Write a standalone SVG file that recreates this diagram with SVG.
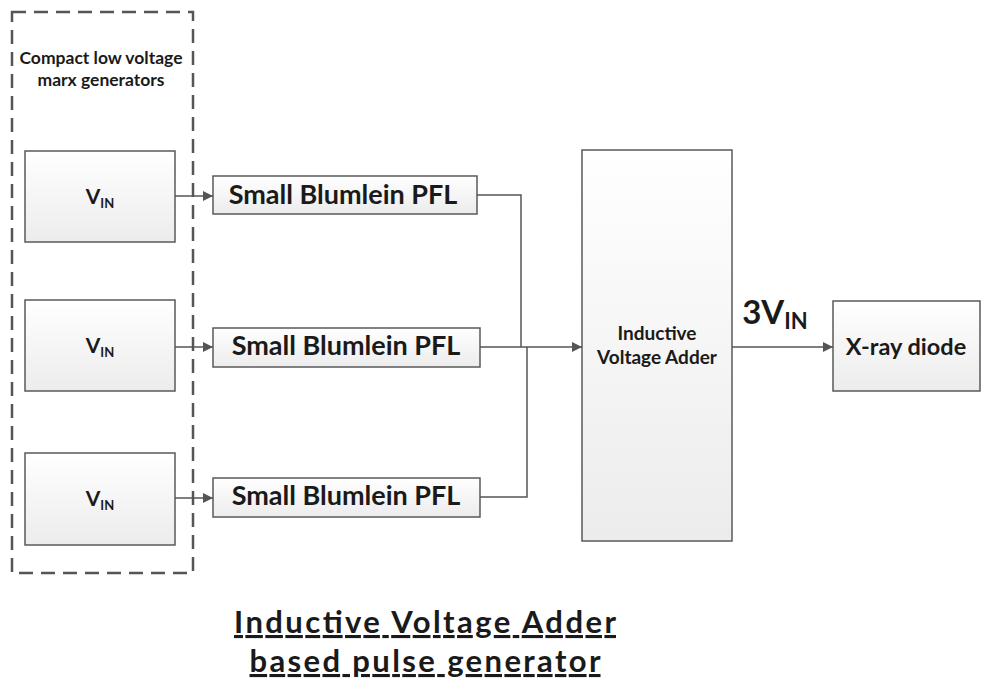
<svg xmlns="http://www.w3.org/2000/svg" width="986" height="689" viewBox="0 0 986 689">
<defs>
<linearGradient id="g" x1="0" y1="0" x2="0" y2="1"><stop offset="0" stop-color="#ffffff"/><stop offset="1" stop-color="#ececec"/></linearGradient>
<marker id="arr" viewBox="0 0 10 10" refX="10" refY="5" markerWidth="10" markerHeight="10" markerUnits="userSpaceOnUse" orient="auto"><path d="M0,0 L10,5 L0,10 Z" fill="#555"/></marker>
<style>
.box{fill:url(#g);stroke:#5a5a5a;stroke-width:1.5}
.t{font-family:Lato,"Open Sans","Liberation Sans",sans-serif;font-weight:bold;fill:#1a1a1a;text-anchor:middle}
.c{fill:none;stroke:#555;stroke-width:1.5}
</style>
</defs>
<rect width="986" height="689" fill="#fff"/>
<g id="group">
<rect x="12" y="12" width="181" height="561" fill="none" stroke="#555" stroke-width="2.5" stroke-dasharray="14,8"/>
<text class="t" x="101" y="64" font-size="17.5" fill="#333">Compact low voltage</text>
<text class="t" x="101" y="86" font-size="17.5" fill="#333">marx generators</text>
</g>
<g id="vin1"><rect class="box" x="25" y="151" width="150" height="91"/><text class="t" x="100" y="204" font-size="21">V<tspan font-size="13" dy="4">IN</tspan></text></g>
<g id="vin2"><rect class="box" x="25" y="300" width="150" height="91"/><text class="t" x="100" y="353" font-size="21">V<tspan font-size="13" dy="4">IN</tspan></text></g>
<g id="vin3"><rect class="box" x="25" y="453" width="150" height="92"/><text class="t" x="100" y="506" font-size="21">V<tspan font-size="13" dy="4">IN</tspan></text></g>
<g id="pfl1"><rect class="box" x="213" y="176" width="264" height="38"/><text class="t" x="343" y="204" font-size="27">Small Blumlein PFL</text></g>
<g id="pfl2"><rect class="box" x="213" y="328" width="267" height="39"/><text class="t" x="346" y="355" font-size="27">Small Blumlein PFL</text></g>
<g id="pfl3"><rect class="box" x="213" y="478" width="267" height="39"/><text class="t" x="346" y="505" font-size="27">Small Blumlein PFL</text></g>
<g id="iva"><rect class="box" x="582" y="150" width="150" height="391"/><text class="t" x="657" y="340" font-size="19" fill="#333">Inductive</text><text class="t" x="657" y="364" font-size="19" fill="#333">Voltage Adder</text></g>
<g id="diode"><rect class="box" x="833" y="301" width="147" height="90"/><text class="t" x="906" y="355" font-size="23.5">X-ray diode</text></g>
<g id="connectors">
<path class="c" d="M175,196 H213" marker-end="url(#arr)"/>
<path class="c" d="M175,347 H213" marker-end="url(#arr)"/>
<path class="c" d="M175,498 H213" marker-end="url(#arr)"/>
<path class="c" d="M477,195 H521 V347"/>
<path class="c" d="M480,497 H527 V347"/>
<path class="c" d="M480,347 H582" marker-end="url(#arr)"/>
<path class="c" d="M732,347 H833" marker-end="url(#arr)"/>
</g>
<text class="t" x="775" y="324" font-size="33" fill="#111">3V<tspan font-size="22" dy="5">IN</tspan></text>
<g id="title">
<text class="t" x="425" y="633" font-size="31" fill="#111" text-decoration="underline" textLength="382" lengthAdjust="spacing">Inductive Voltage Adder</text>
<text class="t" x="425" y="672" font-size="31" fill="#111" text-decoration="underline" textLength="351" lengthAdjust="spacing">based pulse generator</text>
</g>
</svg>
